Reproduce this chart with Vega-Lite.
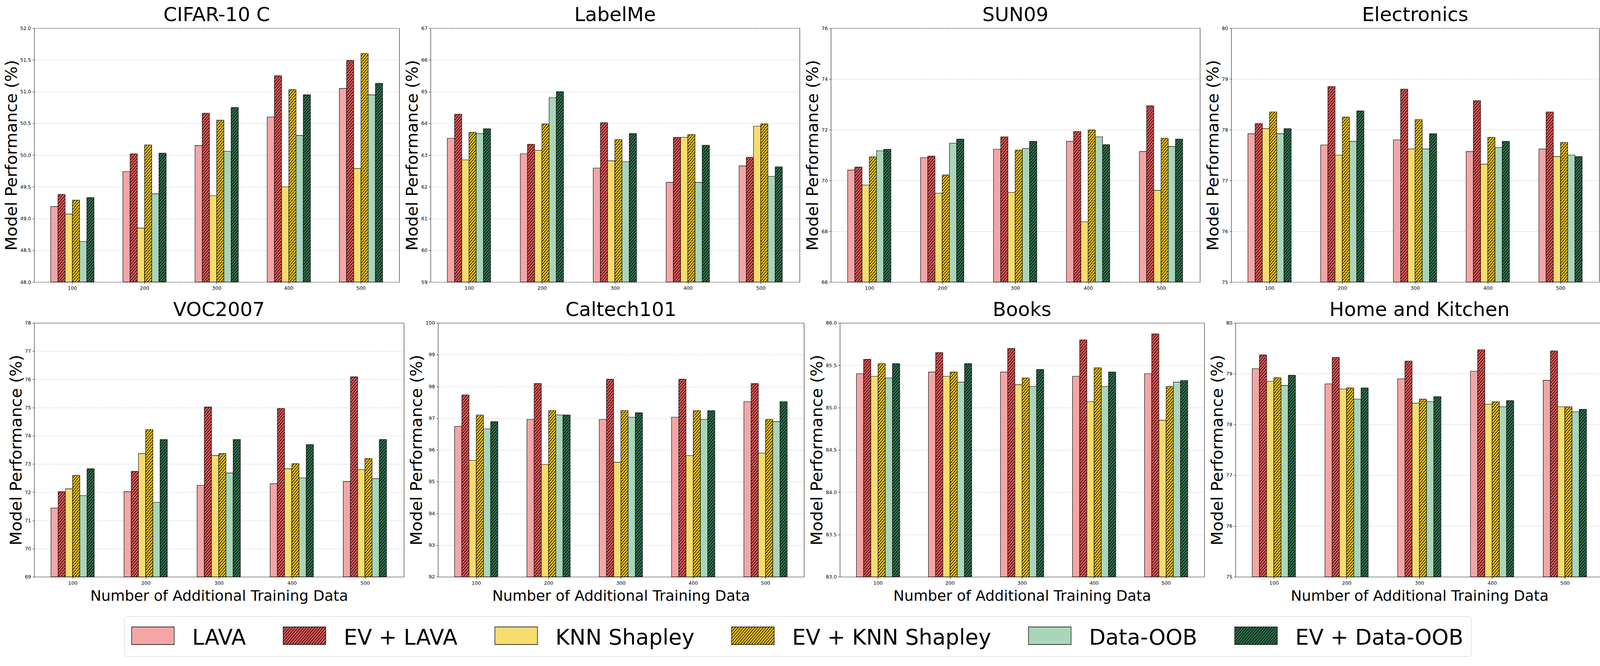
{
"$schema":"https://vega.github.io/schema/vega-lite/v6.json",
"background":"white",
"padding":{"left":8.4,"top":13,"right":4,"bottom":3},
"datasets":{"perf":[
{"d":"CIFAR-10 C","n":"100","m":"LAVA","v":49.19},{"d":"CIFAR-10 C","n":"100","m":"EV + LAVA","v":49.38},{"d":"CIFAR-10 C","n":"100","m":"KNN Shapley","v":49.07},{"d":"CIFAR-10 C","n":"100","m":"EV + KNN Shapley","v":49.29},{"d":"CIFAR-10 C","n":"100","m":"Data-OOB","v":48.64},{"d":"CIFAR-10 C","n":"100","m":"EV + Data-OOB","v":49.33},
{"d":"CIFAR-10 C","n":"200","m":"LAVA","v":49.74},{"d":"CIFAR-10 C","n":"200","m":"EV + LAVA","v":50.02},{"d":"CIFAR-10 C","n":"200","m":"KNN Shapley","v":48.85},{"d":"CIFAR-10 C","n":"200","m":"EV + KNN Shapley","v":50.16},{"d":"CIFAR-10 C","n":"200","m":"Data-OOB","v":49.39},{"d":"CIFAR-10 C","n":"200","m":"EV + Data-OOB","v":50.03},
{"d":"CIFAR-10 C","n":"300","m":"LAVA","v":50.15},{"d":"CIFAR-10 C","n":"300","m":"EV + LAVA","v":50.66},{"d":"CIFAR-10 C","n":"300","m":"KNN Shapley","v":49.36},{"d":"CIFAR-10 C","n":"300","m":"EV + KNN Shapley","v":50.55},{"d":"CIFAR-10 C","n":"300","m":"Data-OOB","v":50.06},{"d":"CIFAR-10 C","n":"300","m":"EV + Data-OOB","v":50.75},
{"d":"CIFAR-10 C","n":"400","m":"LAVA","v":50.60},{"d":"CIFAR-10 C","n":"400","m":"EV + LAVA","v":51.25},{"d":"CIFAR-10 C","n":"400","m":"KNN Shapley","v":49.50},{"d":"CIFAR-10 C","n":"400","m":"EV + KNN Shapley","v":51.03},{"d":"CIFAR-10 C","n":"400","m":"Data-OOB","v":50.31},{"d":"CIFAR-10 C","n":"400","m":"EV + Data-OOB","v":50.95},
{"d":"CIFAR-10 C","n":"500","m":"LAVA","v":51.05},{"d":"CIFAR-10 C","n":"500","m":"EV + LAVA","v":51.49},{"d":"CIFAR-10 C","n":"500","m":"KNN Shapley","v":49.79},{"d":"CIFAR-10 C","n":"500","m":"EV + KNN Shapley","v":51.60},{"d":"CIFAR-10 C","n":"500","m":"Data-OOB","v":50.95},{"d":"CIFAR-10 C","n":"500","m":"EV + Data-OOB","v":51.13},
{"d":"LabelMe","n":"100","m":"LAVA","v":63.53},{"d":"LabelMe","n":"100","m":"EV + LAVA","v":64.29},{"d":"LabelMe","n":"100","m":"KNN Shapley","v":62.85},{"d":"LabelMe","n":"100","m":"EV + KNN Shapley","v":63.72},{"d":"LabelMe","n":"100","m":"Data-OOB","v":63.68},{"d":"LabelMe","n":"100","m":"EV + Data-OOB","v":63.83},
{"d":"LabelMe","n":"200","m":"LAVA","v":63.04},{"d":"LabelMe","n":"200","m":"EV + LAVA","v":63.34},{"d":"LabelMe","n":"200","m":"KNN Shapley","v":63.15},{"d":"LabelMe","n":"200","m":"EV + KNN Shapley","v":63.98},{"d":"LabelMe","n":"200","m":"Data-OOB","v":64.81},{"d":"LabelMe","n":"200","m":"EV + Data-OOB","v":65.00},
{"d":"LabelMe","n":"300","m":"LAVA","v":62.59},{"d":"LabelMe","n":"300","m":"EV + LAVA","v":64.02},{"d":"LabelMe","n":"300","m":"KNN Shapley","v":62.82},{"d":"LabelMe","n":"300","m":"EV + KNN Shapley","v":63.49},{"d":"LabelMe","n":"300","m":"Data-OOB","v":62.79},{"d":"LabelMe","n":"300","m":"EV + Data-OOB","v":63.68},
{"d":"LabelMe","n":"400","m":"LAVA","v":62.14},{"d":"LabelMe","n":"400","m":"EV + LAVA","v":63.56},{"d":"LabelMe","n":"400","m":"KNN Shapley","v":63.56},{"d":"LabelMe","n":"400","m":"EV + KNN Shapley","v":63.65},{"d":"LabelMe","n":"400","m":"Data-OOB","v":62.14},{"d":"LabelMe","n":"400","m":"EV + Data-OOB","v":63.31},
{"d":"LabelMe","n":"500","m":"LAVA","v":62.66},{"d":"LabelMe","n":"500","m":"EV + LAVA","v":62.93},{"d":"LabelMe","n":"500","m":"KNN Shapley","v":63.91},{"d":"LabelMe","n":"500","m":"EV + KNN Shapley","v":63.98},{"d":"LabelMe","n":"500","m":"Data-OOB","v":62.33},{"d":"LabelMe","n":"500","m":"EV + Data-OOB","v":62.63},
{"d":"SUN09","n":"100","m":"LAVA","v":70.41},{"d":"SUN09","n":"100","m":"EV + LAVA","v":70.53},{"d":"SUN09","n":"100","m":"KNN Shapley","v":69.82},{"d":"SUN09","n":"100","m":"EV + KNN Shapley","v":70.93},{"d":"SUN09","n":"100","m":"Data-OOB","v":71.17},{"d":"SUN09","n":"100","m":"EV + Data-OOB","v":71.23},
{"d":"SUN09","n":"200","m":"LAVA","v":70.90},{"d":"SUN09","n":"200","m":"EV + LAVA","v":70.96},{"d":"SUN09","n":"200","m":"KNN Shapley","v":69.50},{"d":"SUN09","n":"200","m":"EV + KNN Shapley","v":70.22},{"d":"SUN09","n":"200","m":"Data-OOB","v":71.47},{"d":"SUN09","n":"200","m":"EV + Data-OOB","v":71.63},
{"d":"SUN09","n":"300","m":"LAVA","v":71.23},{"d":"SUN09","n":"300","m":"EV + LAVA","v":71.72},{"d":"SUN09","n":"300","m":"KNN Shapley","v":69.53},{"d":"SUN09","n":"300","m":"EV + KNN Shapley","v":71.20},{"d":"SUN09","n":"300","m":"Data-OOB","v":71.26},{"d":"SUN09","n":"300","m":"EV + Data-OOB","v":71.54},
{"d":"SUN09","n":"400","m":"LAVA","v":71.54},{"d":"SUN09","n":"400","m":"EV + LAVA","v":71.93},{"d":"SUN09","n":"400","m":"KNN Shapley","v":68.37},{"d":"SUN09","n":"400","m":"EV + KNN Shapley","v":71.99},{"d":"SUN09","n":"400","m":"Data-OOB","v":71.72},{"d":"SUN09","n":"400","m":"EV + Data-OOB","v":71.41},
{"d":"SUN09","n":"500","m":"LAVA","v":71.14},{"d":"SUN09","n":"500","m":"EV + LAVA","v":72.94},{"d":"SUN09","n":"500","m":"KNN Shapley","v":69.61},{"d":"SUN09","n":"500","m":"EV + KNN Shapley","v":71.66},{"d":"SUN09","n":"500","m":"Data-OOB","v":71.34},{"d":"SUN09","n":"500","m":"EV + Data-OOB","v":71.63},
{"d":"Electronics","n":"100","m":"LAVA","v":77.92},{"d":"Electronics","n":"100","m":"EV + LAVA","v":78.12},{"d":"Electronics","n":"100","m":"KNN Shapley","v":78.02},{"d":"Electronics","n":"100","m":"EV + KNN Shapley","v":78.35},{"d":"Electronics","n":"100","m":"Data-OOB","v":77.92},{"d":"Electronics","n":"100","m":"EV + Data-OOB","v":78.02},
{"d":"Electronics","n":"200","m":"LAVA","v":77.70},{"d":"Electronics","n":"200","m":"EV + LAVA","v":78.85},{"d":"Electronics","n":"200","m":"KNN Shapley","v":77.50},{"d":"Electronics","n":"200","m":"EV + KNN Shapley","v":78.25},{"d":"Electronics","n":"200","m":"Data-OOB","v":77.77},{"d":"Electronics","n":"200","m":"EV + Data-OOB","v":78.37},
{"d":"Electronics","n":"300","m":"LAVA","v":77.80},{"d":"Electronics","n":"300","m":"EV + LAVA","v":78.80},{"d":"Electronics","n":"300","m":"KNN Shapley","v":77.62},{"d":"Electronics","n":"300","m":"EV + KNN Shapley","v":78.20},{"d":"Electronics","n":"300","m":"Data-OOB","v":77.62},{"d":"Electronics","n":"300","m":"EV + Data-OOB","v":77.92},
{"d":"Electronics","n":"400","m":"LAVA","v":77.57},{"d":"Electronics","n":"400","m":"EV + LAVA","v":78.57},{"d":"Electronics","n":"400","m":"KNN Shapley","v":77.32},{"d":"Electronics","n":"400","m":"EV + KNN Shapley","v":77.85},{"d":"Electronics","n":"400","m":"Data-OOB","v":77.65},{"d":"Electronics","n":"400","m":"EV + Data-OOB","v":77.77},
{"d":"Electronics","n":"500","m":"LAVA","v":77.62},{"d":"Electronics","n":"500","m":"EV + LAVA","v":78.35},{"d":"Electronics","n":"500","m":"KNN Shapley","v":77.47},{"d":"Electronics","n":"500","m":"EV + KNN Shapley","v":77.75},{"d":"Electronics","n":"500","m":"Data-OOB","v":77.50},{"d":"Electronics","n":"500","m":"EV + Data-OOB","v":77.47},
{"d":"VOC2007","n":"100","m":"LAVA","v":71.44},{"d":"VOC2007","n":"100","m":"EV + LAVA","v":72.02},{"d":"VOC2007","n":"100","m":"KNN Shapley","v":72.12},{"d":"VOC2007","n":"100","m":"EV + KNN Shapley","v":72.60},{"d":"VOC2007","n":"100","m":"Data-OOB","v":71.88},{"d":"VOC2007","n":"100","m":"EV + Data-OOB","v":72.83},
{"d":"VOC2007","n":"200","m":"LAVA","v":72.02},{"d":"VOC2007","n":"200","m":"EV + LAVA","v":72.74},{"d":"VOC2007","n":"200","m":"KNN Shapley","v":73.37},{"d":"VOC2007","n":"200","m":"EV + KNN Shapley","v":74.22},{"d":"VOC2007","n":"200","m":"Data-OOB","v":71.64},{"d":"VOC2007","n":"200","m":"EV + Data-OOB","v":73.87},
{"d":"VOC2007","n":"300","m":"LAVA","v":72.24},{"d":"VOC2007","n":"300","m":"EV + LAVA","v":75.02},{"d":"VOC2007","n":"300","m":"KNN Shapley","v":73.30},{"d":"VOC2007","n":"300","m":"EV + KNN Shapley","v":73.37},{"d":"VOC2007","n":"300","m":"Data-OOB","v":72.68},{"d":"VOC2007","n":"300","m":"EV + Data-OOB","v":73.87},
{"d":"VOC2007","n":"400","m":"LAVA","v":72.30},{"d":"VOC2007","n":"400","m":"EV + LAVA","v":74.97},{"d":"VOC2007","n":"400","m":"KNN Shapley","v":72.83},{"d":"VOC2007","n":"400","m":"EV + KNN Shapley","v":73.01},{"d":"VOC2007","n":"400","m":"Data-OOB","v":72.51},{"d":"VOC2007","n":"400","m":"EV + Data-OOB","v":73.69},
{"d":"VOC2007","n":"500","m":"LAVA","v":72.38},{"d":"VOC2007","n":"500","m":"EV + LAVA","v":76.09},{"d":"VOC2007","n":"500","m":"KNN Shapley","v":72.80},{"d":"VOC2007","n":"500","m":"EV + KNN Shapley","v":73.19},{"d":"VOC2007","n":"500","m":"Data-OOB","v":72.48},{"d":"VOC2007","n":"500","m":"EV + Data-OOB","v":73.87},
{"d":"Caltech101","n":"100","m":"LAVA","v":96.74},{"d":"Caltech101","n":"100","m":"EV + LAVA","v":97.73},{"d":"Caltech101","n":"100","m":"KNN Shapley","v":95.67},{"d":"Caltech101","n":"100","m":"EV + KNN Shapley","v":97.10},{"d":"Caltech101","n":"100","m":"Data-OOB","v":96.66},{"d":"Caltech101","n":"100","m":"EV + Data-OOB","v":96.89},
{"d":"Caltech101","n":"200","m":"LAVA","v":96.96},{"d":"Caltech101","n":"200","m":"EV + LAVA","v":98.09},{"d":"Caltech101","n":"200","m":"KNN Shapley","v":95.54},{"d":"Caltech101","n":"200","m":"EV + KNN Shapley","v":97.24},{"d":"Caltech101","n":"200","m":"Data-OOB","v":97.10},{"d":"Caltech101","n":"200","m":"EV + Data-OOB","v":97.10},
{"d":"Caltech101","n":"300","m":"LAVA","v":96.96},{"d":"Caltech101","n":"300","m":"EV + LAVA","v":98.23},{"d":"Caltech101","n":"300","m":"KNN Shapley","v":95.61},{"d":"Caltech101","n":"300","m":"EV + KNN Shapley","v":97.24},{"d":"Caltech101","n":"300","m":"Data-OOB","v":97.03},{"d":"Caltech101","n":"300","m":"EV + Data-OOB","v":97.17},
{"d":"Caltech101","n":"400","m":"LAVA","v":97.03},{"d":"Caltech101","n":"400","m":"EV + LAVA","v":98.23},{"d":"Caltech101","n":"400","m":"KNN Shapley","v":95.82},{"d":"Caltech101","n":"400","m":"EV + KNN Shapley","v":97.24},{"d":"Caltech101","n":"400","m":"Data-OOB","v":96.96},{"d":"Caltech101","n":"400","m":"EV + Data-OOB","v":97.24},
{"d":"Caltech101","n":"500","m":"LAVA","v":97.52},{"d":"Caltech101","n":"500","m":"EV + LAVA","v":98.09},{"d":"Caltech101","n":"500","m":"KNN Shapley","v":95.90},{"d":"Caltech101","n":"500","m":"EV + KNN Shapley","v":96.96},{"d":"Caltech101","n":"500","m":"Data-OOB","v":96.89},{"d":"Caltech101","n":"500","m":"EV + Data-OOB","v":97.52},
{"d":"Books","n":"100","m":"LAVA","v":85.40},{"d":"Books","n":"100","m":"EV + LAVA","v":85.57},{"d":"Books","n":"100","m":"KNN Shapley","v":85.37},{"d":"Books","n":"100","m":"EV + KNN Shapley","v":85.52},{"d":"Books","n":"100","m":"Data-OOB","v":85.35},{"d":"Books","n":"100","m":"EV + Data-OOB","v":85.52},
{"d":"Books","n":"200","m":"LAVA","v":85.42},{"d":"Books","n":"200","m":"EV + LAVA","v":85.65},{"d":"Books","n":"200","m":"KNN Shapley","v":85.37},{"d":"Books","n":"200","m":"EV + KNN Shapley","v":85.42},{"d":"Books","n":"200","m":"Data-OOB","v":85.30},{"d":"Books","n":"200","m":"EV + Data-OOB","v":85.52},
{"d":"Books","n":"300","m":"LAVA","v":85.42},{"d":"Books","n":"300","m":"EV + LAVA","v":85.70},{"d":"Books","n":"300","m":"KNN Shapley","v":85.27},{"d":"Books","n":"300","m":"EV + KNN Shapley","v":85.35},{"d":"Books","n":"300","m":"Data-OOB","v":85.25},{"d":"Books","n":"300","m":"EV + Data-OOB","v":85.45},
{"d":"Books","n":"400","m":"LAVA","v":85.37},{"d":"Books","n":"400","m":"EV + LAVA","v":85.80},{"d":"Books","n":"400","m":"KNN Shapley","v":85.07},{"d":"Books","n":"400","m":"EV + KNN Shapley","v":85.47},{"d":"Books","n":"400","m":"Data-OOB","v":85.25},{"d":"Books","n":"400","m":"EV + Data-OOB","v":85.42},
{"d":"Books","n":"500","m":"LAVA","v":85.40},{"d":"Books","n":"500","m":"EV + LAVA","v":85.87},{"d":"Books","n":"500","m":"KNN Shapley","v":84.85},{"d":"Books","n":"500","m":"EV + KNN Shapley","v":85.25},{"d":"Books","n":"500","m":"Data-OOB","v":85.30},{"d":"Books","n":"500","m":"EV + Data-OOB","v":85.32},
{"d":"Home and Kitchen","n":"100","m":"LAVA","v":79.10},{"d":"Home and Kitchen","n":"100","m":"EV + LAVA","v":79.37},{"d":"Home and Kitchen","n":"100","m":"KNN Shapley","v":78.85},{"d":"Home and Kitchen","n":"100","m":"EV + KNN Shapley","v":78.92},{"d":"Home and Kitchen","n":"100","m":"Data-OOB","v":78.77},{"d":"Home and Kitchen","n":"100","m":"EV + Data-OOB","v":78.97},
{"d":"Home and Kitchen","n":"200","m":"LAVA","v":78.80},{"d":"Home and Kitchen","n":"200","m":"EV + LAVA","v":79.32},{"d":"Home and Kitchen","n":"200","m":"KNN Shapley","v":78.70},{"d":"Home and Kitchen","n":"200","m":"EV + KNN Shapley","v":78.72},{"d":"Home and Kitchen","n":"200","m":"Data-OOB","v":78.50},{"d":"Home and Kitchen","n":"200","m":"EV + Data-OOB","v":78.72},
{"d":"Home and Kitchen","n":"300","m":"LAVA","v":78.90},{"d":"Home and Kitchen","n":"300","m":"EV + LAVA","v":79.25},{"d":"Home and Kitchen","n":"300","m":"KNN Shapley","v":78.42},{"d":"Home and Kitchen","n":"300","m":"EV + KNN Shapley","v":78.50},{"d":"Home and Kitchen","n":"300","m":"Data-OOB","v":78.45},{"d":"Home and Kitchen","n":"300","m":"EV + Data-OOB","v":78.55},
{"d":"Home and Kitchen","n":"400","m":"LAVA","v":79.05},{"d":"Home and Kitchen","n":"400","m":"EV + LAVA","v":79.47},{"d":"Home and Kitchen","n":"400","m":"KNN Shapley","v":78.40},{"d":"Home and Kitchen","n":"400","m":"EV + KNN Shapley","v":78.45},{"d":"Home and Kitchen","n":"400","m":"Data-OOB","v":78.35},{"d":"Home and Kitchen","n":"400","m":"EV + Data-OOB","v":78.47},
{"d":"Home and Kitchen","n":"500","m":"LAVA","v":78.87},{"d":"Home and Kitchen","n":"500","m":"EV + LAVA","v":79.45},{"d":"Home and Kitchen","n":"500","m":"KNN Shapley","v":78.35},{"d":"Home and Kitchen","n":"500","m":"EV + KNN Shapley","v":78.35},{"d":"Home and Kitchen","n":"500","m":"Data-OOB","v":78.25},{"d":"Home and Kitchen","n":"500","m":"EV + Data-OOB","v":78.30}
]},
"data":{"name":"perf"},
"params":[{"name":"hatch","value":[
{"offset":0,"color":"#0000"},
{"offset":0.0095,"color":"#0000"},{"offset":0.0095,"color":"#000"},{"offset":0.0125,"color":"#000"},{"offset":0.0125,"color":"#0000"},
{"offset":0.022,"color":"#0000"},{"offset":0.022,"color":"#000"},{"offset":0.025,"color":"#000"},{"offset":0.025,"color":"#0000"},
{"offset":0.0345,"color":"#0000"},{"offset":0.0345,"color":"#000"},{"offset":0.0375,"color":"#000"},{"offset":0.0375,"color":"#0000"},
{"offset":0.047,"color":"#0000"},{"offset":0.047,"color":"#000"},{"offset":0.05,"color":"#000"},{"offset":0.05,"color":"#0000"},
{"offset":0.0595,"color":"#0000"},{"offset":0.0595,"color":"#000"},{"offset":0.0625,"color":"#000"},{"offset":0.0625,"color":"#0000"},
{"offset":0.072,"color":"#0000"},{"offset":0.072,"color":"#000"},{"offset":0.075,"color":"#000"},{"offset":0.075,"color":"#0000"},
{"offset":0.0845,"color":"#0000"},{"offset":0.0845,"color":"#000"},{"offset":0.0875,"color":"#000"},{"offset":0.0875,"color":"#0000"},
{"offset":0.097,"color":"#0000"},{"offset":0.097,"color":"#000"},{"offset":0.1,"color":"#000"},{"offset":0.1,"color":"#0000"},
{"offset":0.1095,"color":"#0000"},{"offset":0.1095,"color":"#000"},{"offset":0.1125,"color":"#000"},{"offset":0.1125,"color":"#0000"},
{"offset":0.122,"color":"#0000"},{"offset":0.122,"color":"#000"},{"offset":0.125,"color":"#000"},{"offset":0.125,"color":"#0000"},
{"offset":0.1345,"color":"#0000"},{"offset":0.1345,"color":"#000"},{"offset":0.1375,"color":"#000"},{"offset":0.1375,"color":"#0000"},
{"offset":0.147,"color":"#0000"},{"offset":0.147,"color":"#000"},{"offset":0.15,"color":"#000"},{"offset":0.15,"color":"#0000"},
{"offset":0.1595,"color":"#0000"},{"offset":0.1595,"color":"#000"},{"offset":0.1625,"color":"#000"},{"offset":0.1625,"color":"#0000"},
{"offset":0.172,"color":"#0000"},{"offset":0.172,"color":"#000"},{"offset":0.175,"color":"#000"},{"offset":0.175,"color":"#0000"},
{"offset":0.1845,"color":"#0000"},{"offset":0.1845,"color":"#000"},{"offset":0.1875,"color":"#000"},{"offset":0.1875,"color":"#0000"},
{"offset":0.197,"color":"#0000"},{"offset":0.197,"color":"#000"},{"offset":0.2,"color":"#000"},{"offset":0.2,"color":"#0000"},
{"offset":0.2095,"color":"#0000"},{"offset":0.2095,"color":"#000"},{"offset":0.2125,"color":"#000"},{"offset":0.2125,"color":"#0000"},
{"offset":0.222,"color":"#0000"},{"offset":0.222,"color":"#000"},{"offset":0.225,"color":"#000"},{"offset":0.225,"color":"#0000"},
{"offset":0.2345,"color":"#0000"},{"offset":0.2345,"color":"#000"},{"offset":0.2375,"color":"#000"},{"offset":0.2375,"color":"#0000"},
{"offset":0.247,"color":"#0000"},{"offset":0.247,"color":"#000"},{"offset":0.25,"color":"#000"},{"offset":0.25,"color":"#0000"},
{"offset":0.2595,"color":"#0000"},{"offset":0.2595,"color":"#000"},{"offset":0.2625,"color":"#000"},{"offset":0.2625,"color":"#0000"},
{"offset":0.272,"color":"#0000"},{"offset":0.272,"color":"#000"},{"offset":0.275,"color":"#000"},{"offset":0.275,"color":"#0000"},
{"offset":0.2845,"color":"#0000"},{"offset":0.2845,"color":"#000"},{"offset":0.2875,"color":"#000"},{"offset":0.2875,"color":"#0000"},
{"offset":0.297,"color":"#0000"},{"offset":0.297,"color":"#000"},{"offset":0.3,"color":"#000"},{"offset":0.3,"color":"#0000"},
{"offset":0.3095,"color":"#0000"},{"offset":0.3095,"color":"#000"},{"offset":0.3125,"color":"#000"},{"offset":0.3125,"color":"#0000"},
{"offset":0.322,"color":"#0000"},{"offset":0.322,"color":"#000"},{"offset":0.325,"color":"#000"},{"offset":0.325,"color":"#0000"},
{"offset":0.3345,"color":"#0000"},{"offset":0.3345,"color":"#000"},{"offset":0.3375,"color":"#000"},{"offset":0.3375,"color":"#0000"},
{"offset":0.347,"color":"#0000"},{"offset":0.347,"color":"#000"},{"offset":0.35,"color":"#000"},{"offset":0.35,"color":"#0000"},
{"offset":0.3595,"color":"#0000"},{"offset":0.3595,"color":"#000"},{"offset":0.3625,"color":"#000"},{"offset":0.3625,"color":"#0000"},
{"offset":0.372,"color":"#0000"},{"offset":0.372,"color":"#000"},{"offset":0.375,"color":"#000"},{"offset":0.375,"color":"#0000"},
{"offset":0.3845,"color":"#0000"},{"offset":0.3845,"color":"#000"},{"offset":0.3875,"color":"#000"},{"offset":0.3875,"color":"#0000"},
{"offset":0.397,"color":"#0000"},{"offset":0.397,"color":"#000"},{"offset":0.4,"color":"#000"},{"offset":0.4,"color":"#0000"},
{"offset":0.4095,"color":"#0000"},{"offset":0.4095,"color":"#000"},{"offset":0.4125,"color":"#000"},{"offset":0.4125,"color":"#0000"},
{"offset":0.422,"color":"#0000"},{"offset":0.422,"color":"#000"},{"offset":0.425,"color":"#000"},{"offset":0.425,"color":"#0000"},
{"offset":0.4345,"color":"#0000"},{"offset":0.4345,"color":"#000"},{"offset":0.4375,"color":"#000"},{"offset":0.4375,"color":"#0000"},
{"offset":0.447,"color":"#0000"},{"offset":0.447,"color":"#000"},{"offset":0.45,"color":"#000"},{"offset":0.45,"color":"#0000"},
{"offset":0.4595,"color":"#0000"},{"offset":0.4595,"color":"#000"},{"offset":0.4625,"color":"#000"},{"offset":0.4625,"color":"#0000"},
{"offset":0.472,"color":"#0000"},{"offset":0.472,"color":"#000"},{"offset":0.475,"color":"#000"},{"offset":0.475,"color":"#0000"},
{"offset":0.4845,"color":"#0000"},{"offset":0.4845,"color":"#000"},{"offset":0.4875,"color":"#000"},{"offset":0.4875,"color":"#0000"},
{"offset":0.497,"color":"#0000"},{"offset":0.497,"color":"#000"},{"offset":0.5,"color":"#000"},{"offset":0.5,"color":"#0000"},
{"offset":0.5095,"color":"#0000"},{"offset":0.5095,"color":"#000"},{"offset":0.5125,"color":"#000"},{"offset":0.5125,"color":"#0000"},
{"offset":0.522,"color":"#0000"},{"offset":0.522,"color":"#000"},{"offset":0.525,"color":"#000"},{"offset":0.525,"color":"#0000"},
{"offset":0.5345,"color":"#0000"},{"offset":0.5345,"color":"#000"},{"offset":0.5375,"color":"#000"},{"offset":0.5375,"color":"#0000"},
{"offset":0.547,"color":"#0000"},{"offset":0.547,"color":"#000"},{"offset":0.55,"color":"#000"},{"offset":0.55,"color":"#0000"},
{"offset":0.5595,"color":"#0000"},{"offset":0.5595,"color":"#000"},{"offset":0.5625,"color":"#000"},{"offset":0.5625,"color":"#0000"},
{"offset":0.572,"color":"#0000"},{"offset":0.572,"color":"#000"},{"offset":0.575,"color":"#000"},{"offset":0.575,"color":"#0000"},
{"offset":0.5845,"color":"#0000"},{"offset":0.5845,"color":"#000"},{"offset":0.5875,"color":"#000"},{"offset":0.5875,"color":"#0000"},
{"offset":0.597,"color":"#0000"},{"offset":0.597,"color":"#000"},{"offset":0.6,"color":"#000"},{"offset":0.6,"color":"#0000"},
{"offset":0.6095,"color":"#0000"},{"offset":0.6095,"color":"#000"},{"offset":0.6125,"color":"#000"},{"offset":0.6125,"color":"#0000"},
{"offset":0.622,"color":"#0000"},{"offset":0.622,"color":"#000"},{"offset":0.625,"color":"#000"},{"offset":0.625,"color":"#0000"},
{"offset":0.6345,"color":"#0000"},{"offset":0.6345,"color":"#000"},{"offset":0.6375,"color":"#000"},{"offset":0.6375,"color":"#0000"},
{"offset":0.647,"color":"#0000"},{"offset":0.647,"color":"#000"},{"offset":0.65,"color":"#000"},{"offset":0.65,"color":"#0000"},
{"offset":0.6595,"color":"#0000"},{"offset":0.6595,"color":"#000"},{"offset":0.6625,"color":"#000"},{"offset":0.6625,"color":"#0000"},
{"offset":0.672,"color":"#0000"},{"offset":0.672,"color":"#000"},{"offset":0.675,"color":"#000"},{"offset":0.675,"color":"#0000"},
{"offset":0.6845,"color":"#0000"},{"offset":0.6845,"color":"#000"},{"offset":0.6875,"color":"#000"},{"offset":0.6875,"color":"#0000"},
{"offset":0.697,"color":"#0000"},{"offset":0.697,"color":"#000"},{"offset":0.7,"color":"#000"},{"offset":0.7,"color":"#0000"},
{"offset":0.7095,"color":"#0000"},{"offset":0.7095,"color":"#000"},{"offset":0.7125,"color":"#000"},{"offset":0.7125,"color":"#0000"},
{"offset":0.722,"color":"#0000"},{"offset":0.722,"color":"#000"},{"offset":0.725,"color":"#000"},{"offset":0.725,"color":"#0000"},
{"offset":0.7345,"color":"#0000"},{"offset":0.7345,"color":"#000"},{"offset":0.7375,"color":"#000"},{"offset":0.7375,"color":"#0000"},
{"offset":0.747,"color":"#0000"},{"offset":0.747,"color":"#000"},{"offset":0.75,"color":"#000"},{"offset":0.75,"color":"#0000"},
{"offset":0.7595,"color":"#0000"},{"offset":0.7595,"color":"#000"},{"offset":0.7625,"color":"#000"},{"offset":0.7625,"color":"#0000"},
{"offset":0.772,"color":"#0000"},{"offset":0.772,"color":"#000"},{"offset":0.775,"color":"#000"},{"offset":0.775,"color":"#0000"},
{"offset":0.7845,"color":"#0000"},{"offset":0.7845,"color":"#000"},{"offset":0.7875,"color":"#000"},{"offset":0.7875,"color":"#0000"},
{"offset":0.797,"color":"#0000"},{"offset":0.797,"color":"#000"},{"offset":0.8,"color":"#000"},{"offset":0.8,"color":"#0000"},
{"offset":0.8095,"color":"#0000"},{"offset":0.8095,"color":"#000"},{"offset":0.8125,"color":"#000"},{"offset":0.8125,"color":"#0000"},
{"offset":0.822,"color":"#0000"},{"offset":0.822,"color":"#000"},{"offset":0.825,"color":"#000"},{"offset":0.825,"color":"#0000"},
{"offset":0.8345,"color":"#0000"},{"offset":0.8345,"color":"#000"},{"offset":0.8375,"color":"#000"},{"offset":0.8375,"color":"#0000"},
{"offset":0.847,"color":"#0000"},{"offset":0.847,"color":"#000"},{"offset":0.85,"color":"#000"},{"offset":0.85,"color":"#0000"},
{"offset":0.8595,"color":"#0000"},{"offset":0.8595,"color":"#000"},{"offset":0.8625,"color":"#000"},{"offset":0.8625,"color":"#0000"},
{"offset":0.872,"color":"#0000"},{"offset":0.872,"color":"#000"},{"offset":0.875,"color":"#000"},{"offset":0.875,"color":"#0000"},
{"offset":0.8845,"color":"#0000"},{"offset":0.8845,"color":"#000"},{"offset":0.8875,"color":"#000"},{"offset":0.8875,"color":"#0000"},
{"offset":0.897,"color":"#0000"},{"offset":0.897,"color":"#000"},{"offset":0.9,"color":"#000"},{"offset":0.9,"color":"#0000"},
{"offset":0.9095,"color":"#0000"},{"offset":0.9095,"color":"#000"},{"offset":0.9125,"color":"#000"},{"offset":0.9125,"color":"#0000"},
{"offset":0.922,"color":"#0000"},{"offset":0.922,"color":"#000"},{"offset":0.925,"color":"#000"},{"offset":0.925,"color":"#0000"},
{"offset":0.9345,"color":"#0000"},{"offset":0.9345,"color":"#000"},{"offset":0.9375,"color":"#000"},{"offset":0.9375,"color":"#0000"},
{"offset":0.947,"color":"#0000"},{"offset":0.947,"color":"#000"},{"offset":0.95,"color":"#000"},{"offset":0.95,"color":"#0000"},
{"offset":0.9595,"color":"#0000"},{"offset":0.9595,"color":"#000"},{"offset":0.9625,"color":"#000"},{"offset":0.9625,"color":"#0000"},
{"offset":0.972,"color":"#0000"},{"offset":0.972,"color":"#000"},{"offset":0.975,"color":"#000"},{"offset":0.975,"color":"#0000"},
{"offset":0.9845,"color":"#0000"},{"offset":0.9845,"color":"#000"},{"offset":0.9875,"color":"#000"},{"offset":0.9875,"color":"#0000"},
{"offset":0.997,"color":"#0000"},{"offset":0.997,"color":"#000"},{"offset":1,"color":"#000"}
]}],
"vconcat":[
{"spacing":11.8,"hconcat":[
{"width":934.6,"height":650,"title":"CIFAR-10 C","transform":[{"filter":"datum.d=='CIFAR-10 C'"}],
"encoding":{"x":{"field":"n","type":"ordinal","title":null,"scale":{"paddingInner":0.4,"paddingOuter":0.23}},
"xOffset":{"field":"m","type":"nominal","scale":{"domain":["LAVA","EV + LAVA","KNN Shapley","EV + KNN Shapley","Data-OOB","EV + Data-OOB"],"paddingInner":0,"paddingOuter":0}},
"y":{"field":"v","type":"quantitative","title":"Model Performance (%)","scale":{"domain":[48,52],"nice":false,"zero":false},"axis":{"values":[48,48.5,49,49.5,50,50.5,51,51.5,52],"format":".1f"}},
"y2":{"datum":48}},
"layer":[
{"mark":{"type":"bar","stroke":"black","strokeWidth":1.1},"encoding":{"color":{"field":"m","type":"nominal","scale":{"domain":["LAVA","EV + LAVA","KNN Shapley","EV + KNN Shapley","Data-OOB","EV + Data-OOB"],"range":["#F4A6A6","#DE5454","#F7DC6F","#E3BC12","#A9D5BA","#2E6E4B"]},
"legend":{"title":null,"orient":"none","legendX":230.5,"legendY":1506,"direction":"horizontal","columns":6,"symbolSize":7056,"symbolType":"M-1.0238,-0.8333H1.5731V0.2381H-1.0238Z","symbolStrokeColor":"black","symbolStrokeWidth":1.3,"symbolOpacity":1,"labelFont":"DejaVu Sans","labelFontSize":55,"labelColor":"black","labelLimit":3000,"labelOffset":69.1,"columnPadding":92,"padding":19,"strokeColor":"#cccccc","fillColor":"white","cornerRadius":6,
"encode":{"labels":{"update":{"dy":{"value":-7}}},"symbols":{"update":{"shape":{"signal":"indexof(['EV + LAVA','EV + KNN Shapley','EV + Data-OOB'],datum.value)>=0?'M-1.0238,-0.8333H1.5731V0.2381H-1.0238Z M-0.9386,-0.8333L-1.0238,-0.7333M-0.7682,-0.8333L-1.0238,-0.5333M-0.5978,-0.8333L-1.0238,-0.3333M-0.4274,-0.8333L-1.0238,-0.1333M-0.2569,-0.8333L-1.0238,0.0667M-0.0865,-0.8333L-0.9995,0.2381M0.0839,-0.8333L-0.8291,0.2381M0.2543,-0.8333L-0.6586,0.2381M0.4247,-0.8333L-0.4882,0.2381M0.5952,-0.8333L-0.3178,0.2381M0.7656,-0.8333L-0.1474,0.2381M0.936,-0.8333L0.0231,0.2381M1.1064,-0.8333L0.1935,0.2381M1.2768,-0.8333L0.3639,0.2381M1.4473,-0.8333L0.5343,0.2381M1.5731,-0.781L0.7047,0.2381M1.5731,-0.581L0.8751,0.2381M1.5731,-0.381L1.0456,0.2381M1.5731,-0.181L1.216,0.2381M1.5731,0.019L1.3864,0.2381M1.5731,0.219L1.5568,0.2381':'M-1.0238,-0.8333H1.5731V0.2381H-1.0238Z'"}}}}}}}},
{"transform":[{"filter":"indexof(['EV + LAVA','EV + KNN Shapley','EV + Data-OOB'],datum.m)>=0"}],"mark":{"type":"bar","fill":{"expr":"{gradient:'linear',x1:0,y1:0,x2:14569/(470+pow((datum.v-48)*162.5,2)),y2:109200*(datum.v-48)/(470+pow((datum.v-48)*162.5,2)),stops:hatch}"}}}
]},
{"width":944.8,"height":650,"title":"LabelMe","transform":[{"filter":"datum.d=='LabelMe'"}],
"encoding":{"x":{"field":"n","type":"ordinal","title":null,"scale":{"paddingInner":0.4,"paddingOuter":0.23}},
"xOffset":{"field":"m","type":"nominal","scale":{"domain":["LAVA","EV + LAVA","KNN Shapley","EV + KNN Shapley","Data-OOB","EV + Data-OOB"],"paddingInner":0,"paddingOuter":0}},
"y":{"field":"v","type":"quantitative","title":"Model Performance (%)","scale":{"domain":[59,67],"nice":false,"zero":false},"axis":{"values":[59,60,61,62,63,64,65,66,67]}},
"y2":{"datum":59}},
"layer":[
{"mark":{"type":"bar","stroke":"black","strokeWidth":1.1},"encoding":{"color":{"field":"m","type":"nominal","scale":{"domain":["LAVA","EV + LAVA","KNN Shapley","EV + KNN Shapley","Data-OOB","EV + Data-OOB"],"range":["#F4A6A6","#DE5454","#F7DC6F","#E3BC12","#A9D5BA","#2E6E4B"]},"legend":null}}},
{"transform":[{"filter":"indexof(['EV + LAVA','EV + KNN Shapley','EV + Data-OOB'],datum.m)>=0"}],"mark":{"type":"bar","fill":{"expr":"{gradient:'linear',x1:0,y1:0,x2:14724/(480.1+pow((datum.v-59)*81.25,2)),y2:54600*(datum.v-59)/(480.1+pow((datum.v-59)*81.25,2)),stops:hatch}"}}}
]},
{"width":944.8,"height":650,"title":"SUN09","transform":[{"filter":"datum.d=='SUN09'"}],
"encoding":{"x":{"field":"n","type":"ordinal","title":null,"scale":{"paddingInner":0.4,"paddingOuter":0.23}},
"xOffset":{"field":"m","type":"nominal","scale":{"domain":["LAVA","EV + LAVA","KNN Shapley","EV + KNN Shapley","Data-OOB","EV + Data-OOB"],"paddingInner":0,"paddingOuter":0}},
"y":{"field":"v","type":"quantitative","title":"Model Performance (%)","scale":{"domain":[66,76],"nice":false,"zero":false},"axis":{"values":[66,68,70,72,74,76]}},
"y2":{"datum":66}},
"layer":[
{"mark":{"type":"bar","stroke":"black","strokeWidth":1.1},"encoding":{"color":{"field":"m","type":"nominal","scale":{"domain":["LAVA","EV + LAVA","KNN Shapley","EV + KNN Shapley","Data-OOB","EV + Data-OOB"],"range":["#F4A6A6","#DE5454","#F7DC6F","#E3BC12","#A9D5BA","#2E6E4B"]},"legend":null}}},
{"transform":[{"filter":"indexof(['EV + LAVA','EV + KNN Shapley','EV + Data-OOB'],datum.m)>=0"}],"mark":{"type":"bar","fill":{"expr":"{gradient:'linear',x1:0,y1:0,x2:14724/(480.1+pow((datum.v-66)*65,2)),y2:43680*(datum.v-66)/(480.1+pow((datum.v-66)*65,2)),stops:hatch}"}}}
]},
{"width":942.3,"height":650,"title":"Electronics","transform":[{"filter":"datum.d=='Electronics'"}],
"encoding":{"x":{"field":"n","type":"ordinal","title":null,"scale":{"paddingInner":0.4,"paddingOuter":0.23}},
"xOffset":{"field":"m","type":"nominal","scale":{"domain":["LAVA","EV + LAVA","KNN Shapley","EV + KNN Shapley","Data-OOB","EV + Data-OOB"],"paddingInner":0,"paddingOuter":0}},
"y":{"field":"v","type":"quantitative","title":"Model Performance (%)","scale":{"domain":[75,80],"nice":false,"zero":false},"axis":{"values":[75,76,77,78,79,80]}},
"y2":{"datum":75}},
"layer":[
{"mark":{"type":"bar","stroke":"black","strokeWidth":1.1},"encoding":{"color":{"field":"m","type":"nominal","scale":{"domain":["LAVA","EV + LAVA","KNN Shapley","EV + KNN Shapley","Data-OOB","EV + Data-OOB"],"range":["#F4A6A6","#DE5454","#F7DC6F","#E3BC12","#A9D5BA","#2E6E4B"]},"legend":null}}},
{"transform":[{"filter":"indexof(['EV + LAVA','EV + KNN Shapley','EV + Data-OOB'],datum.m)>=0"}],"mark":{"type":"bar","fill":{"expr":"{gradient:'linear',x1:0,y1:0,x2:14683/(477.5+pow((datum.v-75)*130,2)),y2:87360*(datum.v-75)/(477.5+pow((datum.v-75)*130,2)),stops:hatch}"}}}
]}
]},
{"spacing":11.8,"hconcat":[
{"width":946.5,"height":650,"title":"VOC2007","transform":[{"filter":"datum.d=='VOC2007'"}],
"encoding":{"x":{"field":"n","type":"ordinal","title":"Number of Additional Training Data","scale":{"paddingInner":0.4,"paddingOuter":0.23}},
"xOffset":{"field":"m","type":"nominal","scale":{"domain":["LAVA","EV + LAVA","KNN Shapley","EV + KNN Shapley","Data-OOB","EV + Data-OOB"],"paddingInner":0,"paddingOuter":0}},
"y":{"field":"v","type":"quantitative","title":"Model Performance (%)","scale":{"domain":[69,78],"nice":false,"zero":false},"axis":{"values":[69,70,71,72,73,74,75,76,77,78]}},
"y2":{"datum":69}},
"layer":[
{"mark":{"type":"bar","stroke":"black","strokeWidth":1.1},"encoding":{"color":{"field":"m","type":"nominal","scale":{"domain":["LAVA","EV + LAVA","KNN Shapley","EV + KNN Shapley","Data-OOB","EV + Data-OOB"],"range":["#F4A6A6","#DE5454","#F7DC6F","#E3BC12","#A9D5BA","#2E6E4B"]},"legend":null}}},
{"transform":[{"filter":"indexof(['EV + LAVA','EV + KNN Shapley','EV + Data-OOB'],datum.m)>=0"}],"mark":{"type":"bar","fill":{"expr":"{gradient:'linear',x1:0,y1:0,x2:14757/(482.2+pow((datum.v-69)*72.222,2)),y2:48533*(datum.v-69)/(482.2+pow((datum.v-69)*72.222,2)),stops:hatch}"}}}
]},
{"width":936.8,"height":650,"title":"Caltech101","transform":[{"filter":"datum.d=='Caltech101'"}],
"encoding":{"x":{"field":"n","type":"ordinal","title":"Number of Additional Training Data","scale":{"paddingInner":0.4,"paddingOuter":0.23}},
"xOffset":{"field":"m","type":"nominal","scale":{"domain":["LAVA","EV + LAVA","KNN Shapley","EV + KNN Shapley","Data-OOB","EV + Data-OOB"],"paddingInner":0,"paddingOuter":0}},
"y":{"field":"v","type":"quantitative","title":"Model Performance (%)","scale":{"domain":[92,100],"nice":false,"zero":false},"axis":{"values":[92,93,94,95,96,97,98,99,100]}},
"y2":{"datum":92}},
"layer":[
{"mark":{"type":"bar","stroke":"black","strokeWidth":1.1},"encoding":{"color":{"field":"m","type":"nominal","scale":{"domain":["LAVA","EV + LAVA","KNN Shapley","EV + KNN Shapley","Data-OOB","EV + Data-OOB"],"range":["#F4A6A6","#DE5454","#F7DC6F","#E3BC12","#A9D5BA","#2E6E4B"]},"legend":null}}},
{"transform":[{"filter":"indexof(['EV + LAVA','EV + KNN Shapley','EV + Data-OOB'],datum.m)>=0"}],"mark":{"type":"bar","fill":{"expr":"{gradient:'linear',x1:0,y1:0,x2:14596/(471.9+pow((datum.v-92)*81.25,2)),y2:54600*(datum.v-92)/(471.9+pow((datum.v-92)*81.25,2)),stops:hatch}"}}}
]},
{"width":932.9,"height":650,"title":"Books","transform":[{"filter":"datum.d=='Books'"}],
"encoding":{"x":{"field":"n","type":"ordinal","title":"Number of Additional Training Data","scale":{"paddingInner":0.4,"paddingOuter":0.23}},
"xOffset":{"field":"m","type":"nominal","scale":{"domain":["LAVA","EV + LAVA","KNN Shapley","EV + KNN Shapley","Data-OOB","EV + Data-OOB"],"paddingInner":0,"paddingOuter":0}},
"y":{"field":"v","type":"quantitative","title":"Model Performance (%)","scale":{"domain":[83,86],"nice":false,"zero":false},"axis":{"values":[83,83.5,84,84.5,85,85.5,86],"format":".1f"}},
"y2":{"datum":83}},
"layer":[
{"mark":{"type":"bar","stroke":"black","strokeWidth":1.1},"encoding":{"color":{"field":"m","type":"nominal","scale":{"domain":["LAVA","EV + LAVA","KNN Shapley","EV + KNN Shapley","Data-OOB","EV + Data-OOB"],"range":["#F4A6A6","#DE5454","#F7DC6F","#E3BC12","#A9D5BA","#2E6E4B"]},"legend":null}}},
{"transform":[{"filter":"indexof(['EV + LAVA','EV + KNN Shapley','EV + Data-OOB'],datum.m)>=0"}],"mark":{"type":"bar","fill":{"expr":"{gradient:'linear',x1:0,y1:0,x2:14542/(468.4+pow((datum.v-83)*216.667,2)),y2:145600*(datum.v-83)/(468.4+pow((datum.v-83)*216.667,2)),stops:hatch}"}}}
]},
{"width":942.3,"height":650,"title":"Home and Kitchen","transform":[{"filter":"datum.d=='Home and Kitchen'"}],
"encoding":{"x":{"field":"n","type":"ordinal","title":"Number of Additional Training Data","scale":{"paddingInner":0.4,"paddingOuter":0.23}},
"xOffset":{"field":"m","type":"nominal","scale":{"domain":["LAVA","EV + LAVA","KNN Shapley","EV + KNN Shapley","Data-OOB","EV + Data-OOB"],"paddingInner":0,"paddingOuter":0}},
"y":{"field":"v","type":"quantitative","title":"Model Performance (%)","scale":{"domain":[75,80],"nice":false,"zero":false},"axis":{"values":[75,76,77,78,79,80]}},
"y2":{"datum":75}},
"layer":[
{"mark":{"type":"bar","stroke":"black","strokeWidth":1.1},"encoding":{"color":{"field":"m","type":"nominal","scale":{"domain":["LAVA","EV + LAVA","KNN Shapley","EV + KNN Shapley","Data-OOB","EV + Data-OOB"],"range":["#F4A6A6","#DE5454","#F7DC6F","#E3BC12","#A9D5BA","#2E6E4B"]},"legend":null}}},
{"transform":[{"filter":"indexof(['EV + LAVA','EV + KNN Shapley','EV + Data-OOB'],datum.m)>=0"}],"mark":{"type":"bar","fill":{"expr":"{gradient:'linear',x1:0,y1:0,x2:14683/(477.5+pow((datum.v-75)*130,2)),y2:87360*(datum.v-75)/(477.5+pow((datum.v-75)*130,2)),stops:hatch}"}}}
]}
]}
],
"spacing":22.7,
"config":{
"font":"DejaVu Sans",
"view":{"stroke":"black","strokeWidth":1},
"title":{"font":"DejaVu Sans","fontSize":50,"fontWeight":"normal","color":"black","offset":2,"baseline":"bottom","anchor":"middle"},
"axis":{"labelFont":"DejaVu Sans","labelFontSize":12.5,"labelColor":"black","tickColor":"black","tickWidth":1,"domain":false,"titleFont":"DejaVu Sans","titleFontWeight":"normal","titleColor":"black"},
"axisX":{"grid":false,"labelAngle":0,"tickSize":4.9,"labelPadding":4.9,"titleFontSize":37.5,"titlePadding":9},
"axisY":{"grid":true,"gridColor":"#b0b0b0","gridOpacity":0.7,"gridDash":[4.26,1.87],"gridWidth":1,"tickSize":4.17,"labelPadding":4.17,"titleFontSize":41.7,"titlePadding":0,"labelFlush":false,"labelOverlap":false}
}
}
